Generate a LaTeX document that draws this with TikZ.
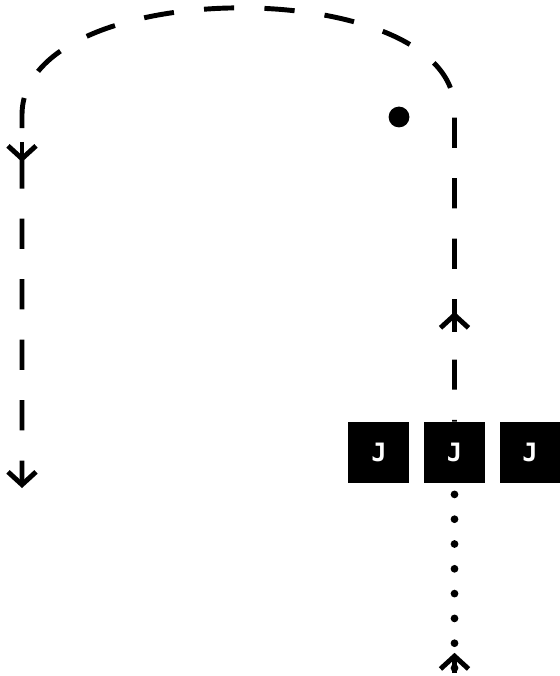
\documentclass[tikz,border=0pt]{standalone}
\usepackage{fontspec}
\setmonofont{DejaVu Sans Mono}
\usetikzlibrary{arrows.meta,positioning,decorations.markings}

\begin{document}
\begin{tikzpicture}[
node distance=0.35cm,
jbox/.style={fill=black, text=white, minimum size=1.525cm, inner sep=0pt, font=\ttfamily\bfseries\fontsize{18}{18}\selectfont},
flow/.style={line width=3.5pt, dash pattern=on 0.756cm off 0.756cm, dash phase=0.7125cm},
dotflow/.style={line width=5.5pt, line cap=round, dash pattern=on 0pt off 0.62cm},
barb/.style={-{Straight Barb[length=3.2mm, width=7mm]}},
midtip/.style={postaction={decorate, decoration={markings, mark=at position #1 with {\draw[solid, line width=3.5pt, line cap=butt, barb] (-0.5cm,0) -- (0,0);}}}}
]
\useasboundingbox (0,0) rectangle (13.975,-16.9);
\node[jbox] (j2) at (11.3625,-11.3125) {J};
\node[jbox, left=of j2] (j1) {J};
\node[jbox, right=of j2] (j3) {J};
\node[circle, fill=black, minimum size=0.52cm, inner sep=0pt] (dot) at (9.975,-2.925) {};
\coordinate (rturn) at (11.3,-2.75);
\coordinate (lturn) at (0.55,-2.875);
\coordinate (lend) at (0.55,-12.2);
\coordinate (dsrc) at (11.3625,-16.7);
\draw[flow, barb, midtip=2.75cm, midtip=-8.15cm] (j2.north) -- (j2.north |- rturn) .. controls (11.3625,0.675) and (0.55,0.675) .. (lturn) -- (lend);
\draw[dotflow, midtip=0.38cm] (dsrc) -- (j2.south);
\end{tikzpicture}
\end{document}
